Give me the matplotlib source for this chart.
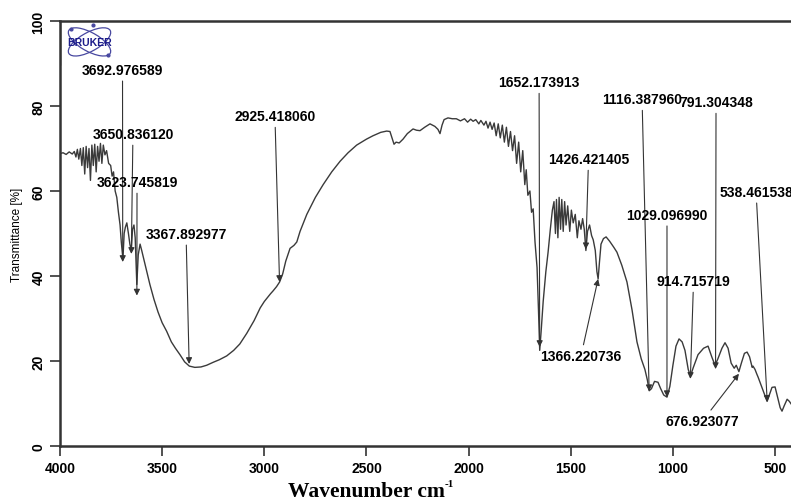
import matplotlib
matplotlib.use("Agg")
import matplotlib.pyplot as plt
from matplotlib.patches import Ellipse, Rectangle

# spectrum (wavenumber cm-1, transmittance %)
wavenumber = [
    4000, 3985, 3970, 3955, 3940, 3930, 3922, 3915, 3908, 3900, 3893, 3886, 3879, 3872,
    3865, 3858, 3851, 3844, 3837, 3830, 3823, 3816, 3809, 3802, 3795, 3788, 3780, 3772,
    3762, 3752, 3745, 3738, 3730, 3722, 3714, 3706, 3700, 3692, 3686, 3680, 3673, 3665,
    3658, 3651, 3645, 3638, 3632, 3624, 3617, 3608, 3600, 3590, 3575, 3560, 3540, 3520,
    3500, 3478, 3455, 3435, 3413, 3390, 3367, 3340, 3310, 3282, 3250, 3220, 3184, 3150,
    3120, 3086, 3050, 3020, 3000, 2970, 2957, 2940, 2925, 2910, 2895, 2874, 2855, 2841,
    2825, 2792, 2750, 2712, 2670, 2629, 2590, 2548, 2500, 2468, 2430, 2401, 2385, 2375,
    2365, 2355, 2340, 2321, 2300, 2272, 2255, 2238, 2215, 2189, 2165, 2150, 2140, 2130,
    2120, 2101, 2080, 2060, 2040, 2020, 2005, 1990, 1978, 1965, 1950, 1940, 1925, 1915,
    1905, 1895, 1885, 1875, 1865, 1855, 1845, 1835, 1825, 1815, 1805, 1795, 1785, 1775,
    1765, 1755, 1745, 1735, 1725, 1718, 1710, 1700, 1692, 1684, 1675, 1665, 1658, 1652,
    1645, 1635, 1622, 1611, 1600, 1590, 1582, 1575, 1570, 1563, 1557, 1550, 1544, 1537,
    1530, 1523, 1515, 1505, 1497, 1488, 1478, 1468, 1460, 1450, 1442, 1434, 1426, 1418,
    1408, 1398, 1390, 1380, 1372, 1366, 1360, 1352, 1340, 1327, 1310, 1290, 1274, 1250,
    1225, 1200, 1176, 1155, 1137, 1125, 1116, 1105, 1090, 1073, 1060, 1045, 1029, 1015,
    1000, 985, 970, 955, 941, 925, 914, 900, 877, 850, 828, 810, 794, 780,
    760, 745, 730, 715, 700, 690, 677, 665, 650, 637, 625, 612, 608, 598,
    590, 583, 570, 555, 539, 528, 515, 500, 488, 475, 466, 455, 441, 430,
    420, 400,
]
transmittance = [
    68.8, 69.0, 68.6, 69.2, 68.7, 69.3, 68.0, 69.8, 67.5, 70.0, 66.0, 70.2, 64.0, 70.5,
    65.5, 70.0, 62.5, 70.8, 66.0, 71.0, 64.5, 70.5, 67.0, 71.2, 66.5, 70.8, 68.5, 69.5,
    66.5, 66.0, 63.5, 64.5, 60.0, 58.5, 55.0, 52.0, 48.0, 44.0, 50.0, 51.5, 52.5, 50.0,
    47.5, 46.0, 51.0, 52.0, 49.0, 38.0, 45.0, 47.5, 46.0, 44.0, 41.0, 38.0, 34.5, 31.5,
    29.0, 27.0, 24.5, 23.0, 21.5, 19.8, 18.8, 18.5, 18.6, 19.0, 19.7, 20.3, 21.2, 22.5,
    24.0, 26.5, 29.5, 32.5, 34.0, 35.8, 36.5, 37.5, 38.6, 40.5, 43.5, 46.5, 47.2, 48.0,
    50.5, 54.5, 58.5, 61.5, 64.5, 67.0, 69.0, 70.8, 72.2, 73.0, 73.8, 74.1, 74.0, 72.5,
    71.0, 71.5, 71.3, 72.2, 73.5, 74.6, 74.3, 74.2, 75.0, 75.8, 75.2, 74.5, 73.5, 75.5,
    76.8, 77.2, 77.0, 77.0, 76.5, 77.0, 76.2, 76.9, 76.4, 76.8, 75.8, 76.6, 75.5, 76.4,
    74.8, 76.2, 74.5, 76.0, 73.0, 75.8, 72.5, 75.5, 71.5, 75.0, 70.5, 74.0, 69.5, 73.0,
    66.5, 71.5, 64.5, 69.5, 61.5, 65.0, 59.0, 60.0, 55.0, 55.8, 48.0, 42.0, 32.0, 22.5,
    27.0, 34.0, 41.0, 45.6, 51.0, 55.5, 57.5, 50.0, 58.0, 49.0, 58.5, 51.0, 58.0, 50.5,
    57.5, 52.0, 56.5, 50.5, 55.5, 52.5, 54.5, 49.0, 53.0, 51.0, 53.5, 51.0, 46.0, 50.5,
    52.0, 49.5, 48.5, 46.0, 41.0, 39.3, 43.0, 47.5, 48.8, 49.2, 48.2, 46.8, 45.6, 42.5,
    38.6, 32.0, 24.5, 20.5, 18.0, 15.5, 13.0, 13.5, 15.2, 15.0, 13.5, 12.0, 11.5, 14.0,
    19.0, 23.5, 25.2, 24.5, 22.5, 18.0, 16.5, 18.5, 21.5, 23.0, 23.5, 21.0, 19.0, 20.5,
    23.0, 24.3, 23.0, 19.5, 18.3, 19.0, 17.5, 19.5, 21.8, 22.1, 21.0, 18.5, 18.8, 18.0,
    17.0, 16.2, 14.5, 12.5, 10.5, 12.0, 13.8, 13.9, 11.5, 9.0, 8.2, 9.5, 11.0, 10.5,
    9.8, 10.0,
]

# picked peaks: arrow tip and label position
peak_wn = [3692.976589, 3650.836120, 3623.745819, 3367.892977, 2925.418060,
           1652.173913, 1116.387960, 791.304348, 1426.421405, 1029.096990,
           538.461538, 914.715719, 1366.220736, 676.923077]
peak_t = [43.3, 45.2, 35.4, 19.3, 38.6, 23.3, 12.9, 18.1, 46.3, 11.5, 10.4, 15.8, 39.3, 17.0]
label_wn = [3694, 3643, 3623, 3383, 2948, 1655, 1151, 789, 1413, 1029, 593, 899, 1450, 855]
label_t = [88.5, 73.4, 62.1, 49.9, 77.6, 85.6, 81.6, 80.9, 67.5, 54.4, 59.8, 38.8, 21.2, 5.9]

yticks = [0, 20, 40, 60, 80, 100]
xticks = [4000, 3500, 3000, 2500, 2000, 1500, 1000, 500]

plt.rcParams['font.family'] = ['Liberation Sans', 'DejaVu Sans']

fig = plt.figure(figsize=(7.91, 5.02), dpi=100)
ax = fig.add_axes([60 / 791, 55 / 502, 735.5 / 791, 425 / 502])

ax.plot(wavenumber, transmittance, color='#3a3a3a', lw=1.0)

ax.set_xlim(4000, 400)
ax.set_ylim(0, 100)
ax.set_xticks(xticks)
ax.set_yticks(yticks)
ax.tick_params(direction='out', length=7, width=1.2, colors='#333333', labelsize=10)
for lab in ax.get_xticklabels():
    lab.set_fontweight('bold')
    lab.set_color('black')
for lab in ax.get_yticklabels():
    lab.set_fontweight('bold')
    lab.set_color('black')
    lab.set_rotation(90)
    lab.set_va('center')
for side in ['left', 'bottom', 'top']:
    ax.spines[side].set_linewidth(1.8)
    ax.spines[side].set_color('#333333')
ax.spines['right'].set_visible(False)

ax.set_ylabel('Transmittance [%]', fontsize=8.5, labelpad=6)

# peak labels with arrows
for wn, t, lx, ly in zip(peak_wn, peak_t, label_wn, label_t):
    ax.annotate(f"{wn:.6f}", xy=(wn, t), xytext=(lx, ly),
                ha='center', va='center', fontsize=10, fontweight='bold',
                arrowprops=dict(arrowstyle='-|>', color='#333333', lw=0.8,
                                mutation_scale=9, shrinkA=1, shrinkB=0))

fig.text(445 / 791, 10 / 502, 'Wavenumber cm', ha='right', va='center',
         fontsize=15.5, fontweight='bold', family='Liberation Serif')
fig.text(445 / 791, 17 / 502, '-1', ha='left', va='center',
         fontsize=8, fontweight='bold', family='Liberation Serif')

# Bruker logo box
ax.add_patch(Rectangle((4000, 89.6), 289, 10.4, fill=False, ec='#333333', lw=1.0))
logo = fig.add_axes([60 / 791, (502 - 66) / 502, 59 / 791, 44 / 502])
logo.set_xlim(-1.3, 1.3)
logo.set_ylim(-1, 1)
logo.axis('off')
for ang in [30, -30]:
    logo.add_patch(Ellipse((0, 0.05), 2.1, 0.85, angle=ang, fill=False, ec='#4848a0', lw=0.9))
logo.plot([-0.8, 0.8, 0.15], [0.62, -0.55, 0.82], 'o', color='#4848a0', ms=2)
logo.text(0, 0.05, 'BRUKER', ha='center', va='center', fontsize=7.5, fontweight='bold',
          color='#1c1c8a')

fig.savefig('out.png', dpi=100)
